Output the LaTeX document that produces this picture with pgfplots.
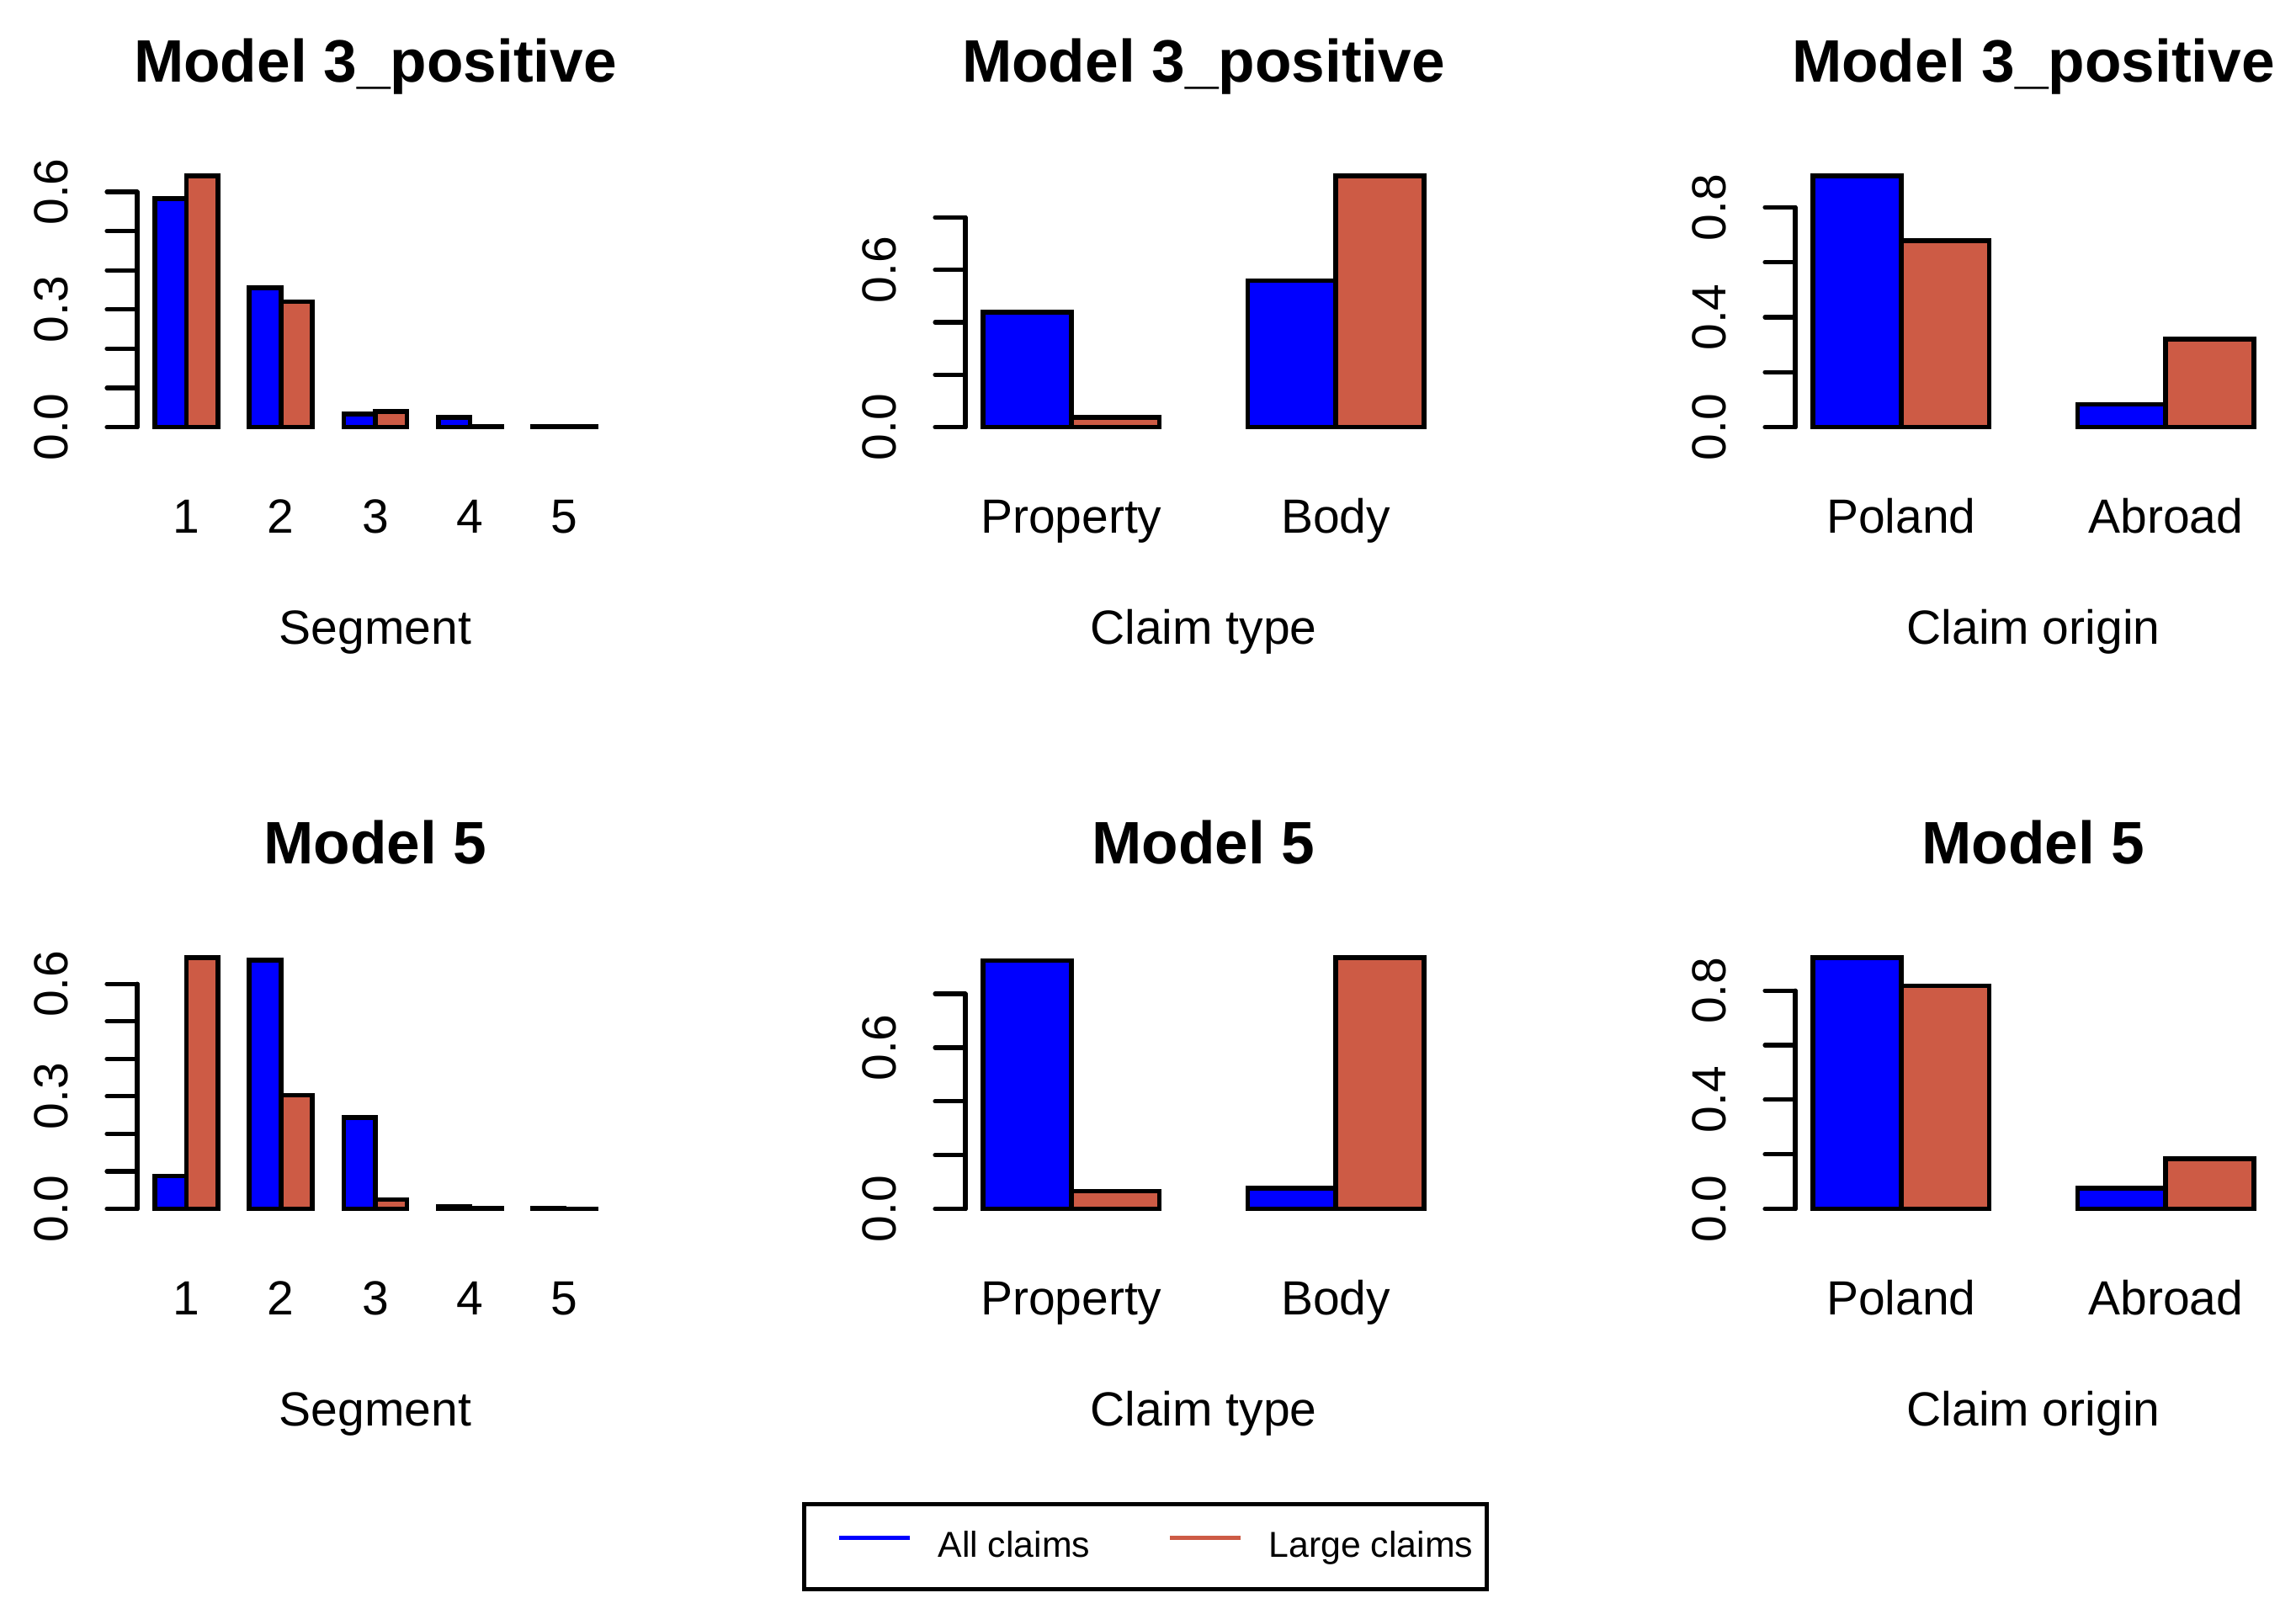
\documentclass[border=0pt]{standalone}
\usepackage{pgfplots}
\pgfplotsset{compat=1.18}
\usepackage{fontspec}
\setmainfont{Liberation Sans}
\definecolor{coralthree}{RGB}{205,91,69}
\definecolor{rblue}{RGB}{0,0,255}
\pgfplotsset{
  panel/.style={
    scale only axis, width=141.5pt, height=80.625pt,
    anchor=south west,
    axis line style={draw=none},
    clip=false,
    font=\fontsize{14.25}{17}\selectfont,
    tick align=outside, major tick length=9pt,
    ytick pos=left, xtick pos=bottom,
    tick style={black, line width=1.3pt, line cap=round},
    xtick style={draw=none},
    yticklabel style={rotate=90, anchor=center},
    yticklabel shift=16.5pt,
    xticklabel style={anchor=base, inner sep=0pt},
    xticklabel shift=19.4pt,
    title style={font=\fontsize{17.8}{20}\selectfont\bfseries, at={(axis description cs:0.5,1)}, anchor=base, yshift=18.9pt},
    xlabel style={at={(axis description cs:0.5,0)}, anchor=base, yshift=-61.5pt},
    ybar, bar width=1, bar shift=0pt,
    every axis plot/.append style={draw=black, line width=1.4pt, line join=miter},
  },
  segpanel/.style={panel, xmin=0.44, xmax=15.56,
    xtick={2,5,8,11,14}, xticklabels={1,2,3,4,5},
    ytick={0,0.1,0.2,0.3,0.4,0.5,0.6}, yticklabels={0.0,,,0.3,,,0.6},
    xlabel={Segment}},
  typepanel/.style={panel, xmin=0.8, xmax=6.2,
    xtick={2,5}, xticklabels={Property,Body},
    ytick={0,0.2,0.4,0.6,0.8}, yticklabels={0.0,,,0.6,},
    xlabel={Claim type}},
  originpanel/.style={panel, xmin=0.8, xmax=6.2,
    xtick={2,5}, xticklabels={Poland,Abroad},
    ytick={0,0.2,0.4,0.6,0.8}, yticklabels={0.0,,0.4,,0.8},
    xlabel={Claim origin}},
}
\begin{document}
\begin{tikzpicture}
\path[use as bounding box] (0,0) rectangle (682pt,-479.25pt);

% Row 1
\begin{axis}[segpanel, at={(40.75pt,-129.875pt)}, ymin=-0.02564, ymax=0.66664,
  title={Model 3\_positive}]
\addplot[fill=rblue, forget plot] coordinates {(1.5,0.583) (4.5,0.356) (7.5,0.033) (10.5,0.025) (13.5,0.001)};
\addplot[fill=coralthree, forget plot] coordinates {(2.5,0.641) (5.5,0.320) (8.5,0.040) (11.5,0.001) (14.5,0.001)};
\draw[black, line width=1.3pt, line cap=round] (axis cs:0.44,0) -- (axis cs:0.44,0.6);
\end{axis}

\begin{axis}[typepanel, at={(286.75pt,-129.875pt)}, ymin=-0.03836, ymax=0.99736,
  title={Model 3\_positive}]
\addplot[fill=rblue, forget plot] coordinates {(1.5,0.438) (4.5,0.559)};
\addplot[fill=coralthree, forget plot] coordinates {(2.5,0.038) (5.5,0.959)};
\draw[black, line width=1.3pt, line cap=round] (axis cs:0.8,0) -- (axis cs:0.8,0.8);
\end{axis}

\begin{axis}[originpanel, at={(533.25pt,-129.875pt)}, ymin=-0.0366, ymax=0.9516,
  title={Model 3\_positive}]
\addplot[fill=rblue, forget plot] coordinates {(1.5,0.915) (4.5,0.083)};
\addplot[fill=coralthree, forget plot] coordinates {(2.5,0.678) (5.5,0.320)};
\draw[black, line width=1.3pt, line cap=round] (axis cs:0.8,0) -- (axis cs:0.8,0.8);
\end{axis}

% Row 2
\begin{axis}[segpanel, at={(40.75pt,-362.125pt)}, ymin=-0.0268, ymax=0.6968,
  title={Model 5}]
\addplot[fill=rblue, forget plot] coordinates {(1.5,0.088) (4.5,0.663) (7.5,0.244) (10.5,0.006) (13.5,0.001)};
\addplot[fill=coralthree, forget plot] coordinates {(2.5,0.670) (5.5,0.303) (8.5,0.025) (11.5,0.001) (14.5,0.0005)};
\draw[black, line width=1.3pt, line cap=round] (axis cs:0.44,0) -- (axis cs:0.44,0.6);
\end{axis}

\begin{axis}[typepanel, at={(286.75pt,-362.125pt)}, ymin=-0.0374, ymax=0.9724,
  title={Model 5},
  legend columns=2,
  legend style={at={(axis description cs:0.378,-1.2078)}, anchor=center,
    draw=black, line width=1.2pt, font=\fontsize{10.7}{12}\selectfont,
    inner xsep=4.1pt, inner ysep=8pt,
    nodes={inner sep=0pt},
    /tikz/every odd column/.append style={column sep=7.75pt},
    /tikz/every even column/.append style={column sep=17.4pt}},
  legend cell align=left]
\addplot[fill=rblue, forget plot] coordinates {(1.5,0.924) (4.5,0.077)};
\addplot[fill=coralthree, forget plot] coordinates {(2.5,0.066) (5.5,0.935)};
\draw[black, line width=1.3pt, line cap=round] (axis cs:0.8,0) -- (axis cs:0.8,0.8);
\addlegendimage{legend image code/.code={\path (0pt,0.5ex); \draw[rblue, line width=1.3pt] (5.6pt,0.5ex) -- (26.6pt,0.5ex);}}
\addlegendentry{All claims}
\addlegendimage{legend image code/.code={\path (0pt,0.5ex); \draw[coralthree, line width=1.3pt] (5.6pt,0.5ex) -- (26.6pt,0.5ex);}}
\addlegendentry{Large claims}
\end{axis}

\begin{axis}[originpanel, at={(533.25pt,-362.125pt)}, ymin=-0.03684, ymax=0.95784,
  title={Model 5}]
\addplot[fill=rblue, forget plot] coordinates {(1.5,0.921) (4.5,0.076)};
\addplot[fill=coralthree, forget plot] coordinates {(2.5,0.817) (5.5,0.183)};
\draw[black, line width=1.3pt, line cap=round] (axis cs:0.8,0) -- (axis cs:0.8,0.8);
\end{axis}
\end{tikzpicture}
\end{document}
